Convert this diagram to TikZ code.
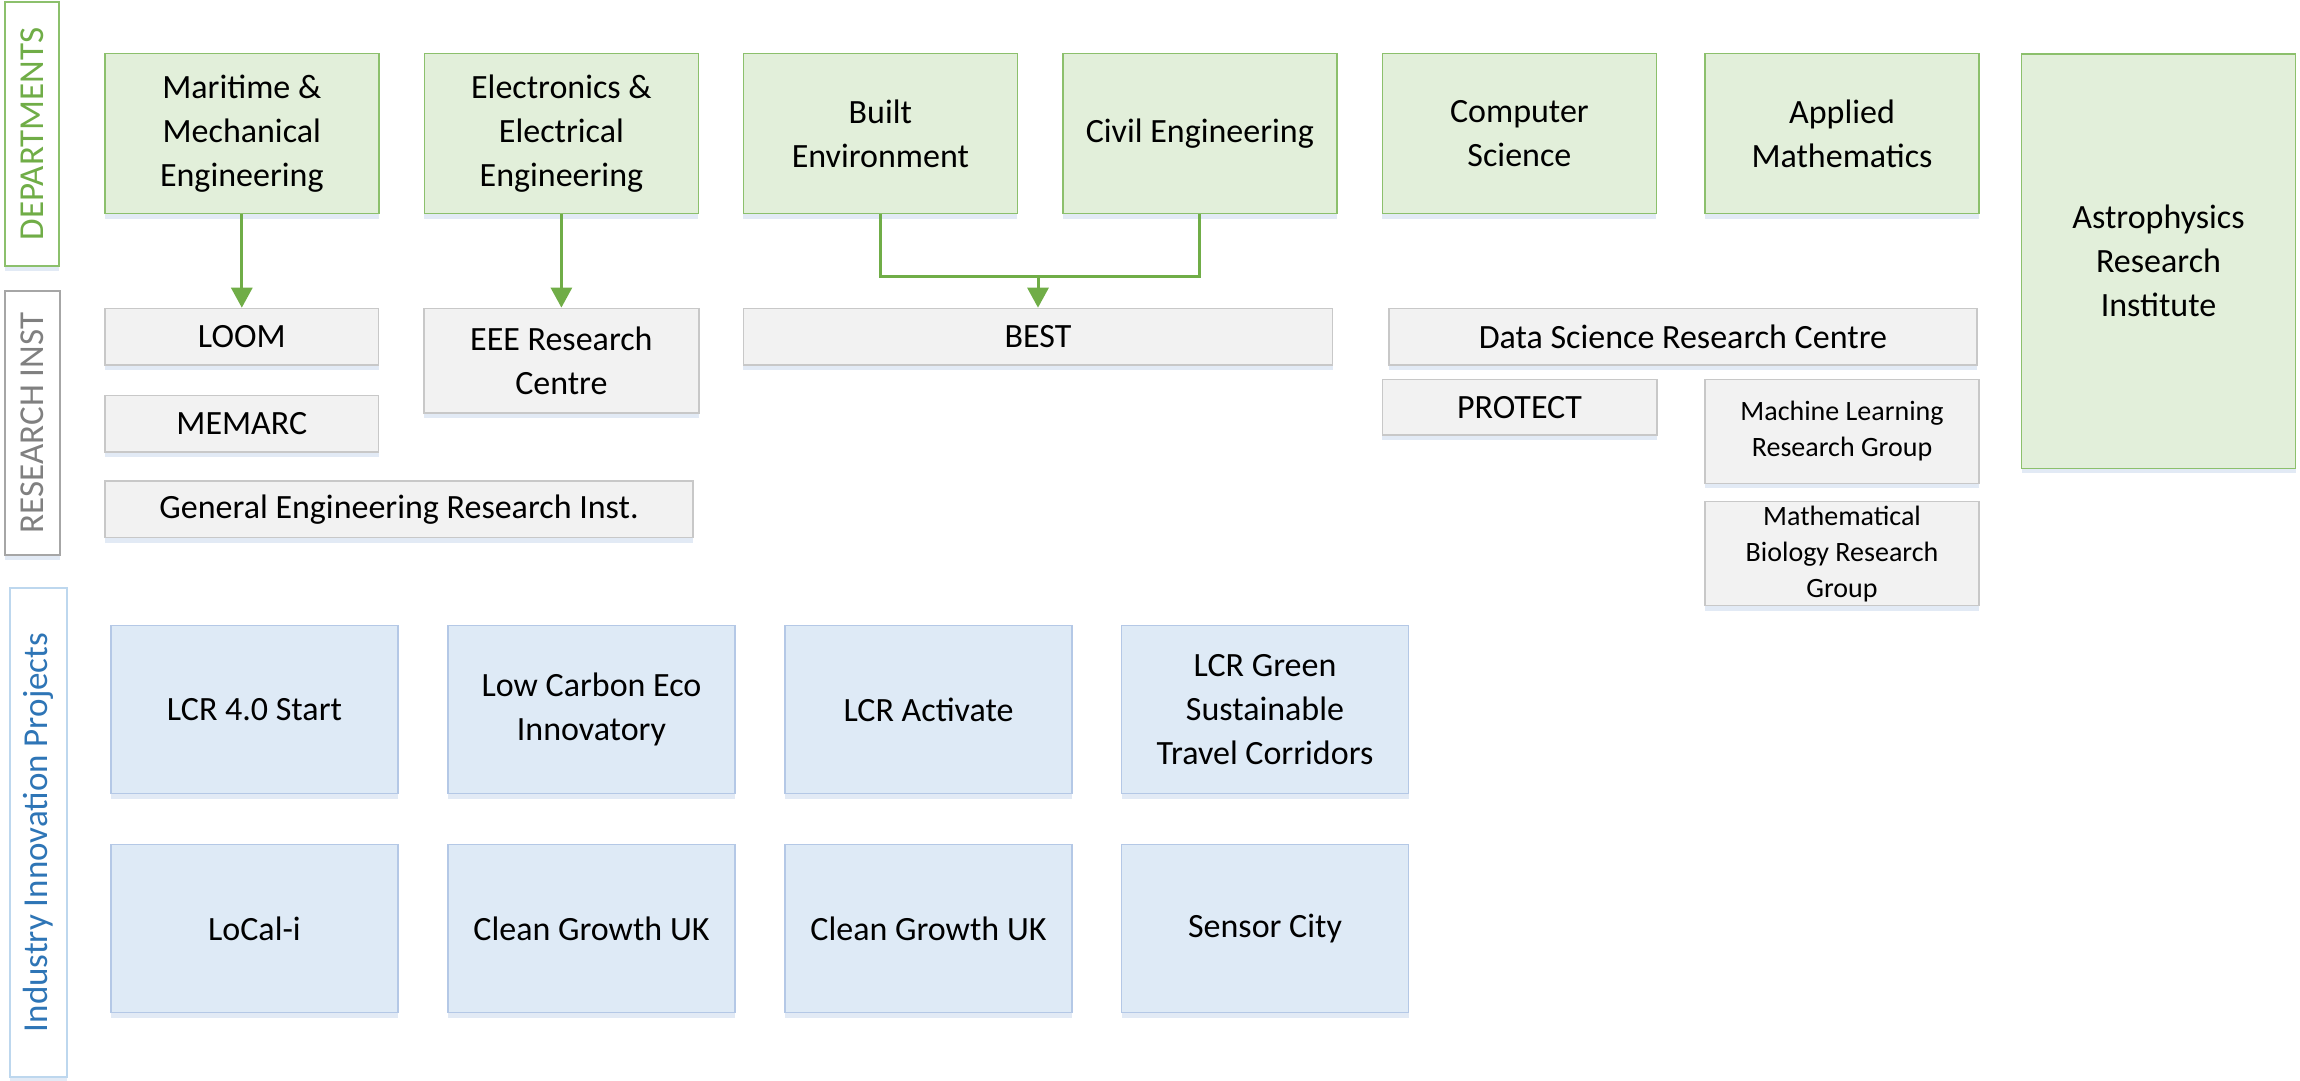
\documentclass[tikz,border=0pt]{standalone}
\usepackage{fontspec}
\setmainfont{Carlito}
\usetikzlibrary{arrows.meta,shadows}
\definecolor{gfill}{HTML}{E2EFDA}
\definecolor{gline}{HTML}{8CC06C}
\definecolor{garrow}{HTML}{70AD47}
\definecolor{rfill}{HTML}{F2F2F2}
\definecolor{rline}{HTML}{C8C8C8}
\definecolor{bfill}{HTML}{DEEAF6}
\definecolor{bline}{HTML}{B4C8E6}
\definecolor{shad}{HTML}{BFD0E8}
\definecolor{labgreen}{HTML}{70AD47}
\definecolor{labgray}{HTML}{808080}
\definecolor{labblue}{HTML}{2E75B6}
\definecolor{lanegray}{HTML}{A6A6A6}
\definecolor{laneblue}{HTML}{BDD7EE}
\tikzset{
  softshadow/.style={drop shadow={shadow xshift=0pt, shadow yshift=-5pt, fill=shad, opacity=0.45}},
  base/.style={rectangle, inner sep=0pt, align=center, line width=1.5pt, font=\fontsize{34}{44}\selectfont, softshadow},
  dept/.style={base, draw=gline, fill=gfill, minimum width=274pt, minimum height=160pt},
  inst/.style={base, draw=rline, fill=rfill, minimum height=56.5pt},
  smalltext/.style={font=\fontsize{28}{36}\selectfont},
  proj/.style={base, draw=bline, fill=bfill, minimum width=287pt, minimum height=168pt},
  lane/.style={rectangle, rotate=90, fill=white, line width=1.5pt, inner sep=0pt, font=\fontsize{35}{42}\selectfont, softshadow},
  conn/.style={draw=garrow, line width=3pt},
  tipped/.style={-{Triangle[length=20pt,width=21pt]}}
}
\begin{document}
\begin{tikzpicture}[x=1pt,y=-1pt]
\useasboundingbox (0,0) rectangle (2300,1081);
% lanes
\node[lane, draw=gline, text=labgreen, minimum width=264pt, minimum height=54pt] (lanedep) at (32,134) {DEPARTMENTS};
\node[lane, draw=lanegray, text=labgray, minimum width=264pt, minimum height=55pt] (laneres) at (32.5,423) {RESEARCH INST};
\node[lane, draw=laneblue, text=labblue, minimum width=489pt, minimum height=57pt] (laneind) at (38.5,832.5) {Industry Innovation Projects};
% departments
\node[dept] (mme) at (241.8,133.5) {Maritime \&\\Mechanical\\Engineering};
\node[dept] (eed) at (561.4,133.5) {Electronics \&\\Electrical\\Engineering};
\node[dept] (be) at (880.4,133.5) {Built\\Environment};
\node[dept] (ce) at (1199.8,133.5) {Civil Engineering};
\node[dept] (cs) at (1519.4,133.5) {Computer\\Science};
\node[dept] (am) at (1842,133.5) {Applied\\Mathematics};
\node[dept, minimum height=414.6pt] (astro) at (2158.5,261.1) {Astrophysics\\Research\\Institute};
% research institutes
\node[inst, minimum width=273.6pt] (loom) at (241.8,336.7) {LOOM};
\node[inst, minimum width=273.6pt] (memarc) at (241.8,423.5) {MEMARC};
\node[inst, minimum width=588pt] (geri) at (399,509.3) {General Engineering Research Inst.};
\node[inst, minimum width=274.7pt, minimum height=104.7pt] (eeerc) at (561.4,360.7) {EEE Research\\Centre};
\node[inst, minimum width=589.3pt] (best) at (1038,336.7) {BEST};
\node[inst, minimum width=588.2pt] (dsrc) at (1682.9,336.6) {Data Science Research Centre};
\node[inst, minimum width=274.4pt, minimum height=55.8pt] (protect) at (1519.6,407.3) {PROTECT};
\node[inst, smalltext, minimum width=274pt, minimum height=104pt] (ml) at (1842,431.3) {Machine Learning\\Research Group};
\node[inst, smalltext, minimum width=274pt, minimum height=104pt] (mbio) at (1842,553.7) {Mathematical\\Biology Research\\Group};
% projects
\node[proj] (p1) at (254.5,709.7) {LCR 4.0 Start};
\node[proj] (p2) at (591.5,709.7) {Low Carbon Eco\\Innovatory};
\node[proj] (p3) at (928.5,709.7) {LCR Activate};
\node[proj] (p4) at (1265,709.7) {LCR Green\\Sustainable\\Travel Corridors};
\node[proj] (p5) at (254.5,928.5) {LoCal-i};
\node[proj] (p6) at (591.5,928.5) {Clean Growth UK};
\node[proj] (p7) at (928.5,928.5) {Clean Growth UK};
\node[proj] (p8) at (1265,928.5) {Sensor City};
% connectors
\draw[conn,tipped] (mme.south) -- (loom.north);
\draw[conn,tipped] (eed.south) -- (eeerc.north);
\coordinate (j) at (1038,276);
\draw[conn] (be.south) |- (j) -| (ce.south);
\draw[conn,tipped] (j) -- (best.north);
\end{tikzpicture}
\end{document}
